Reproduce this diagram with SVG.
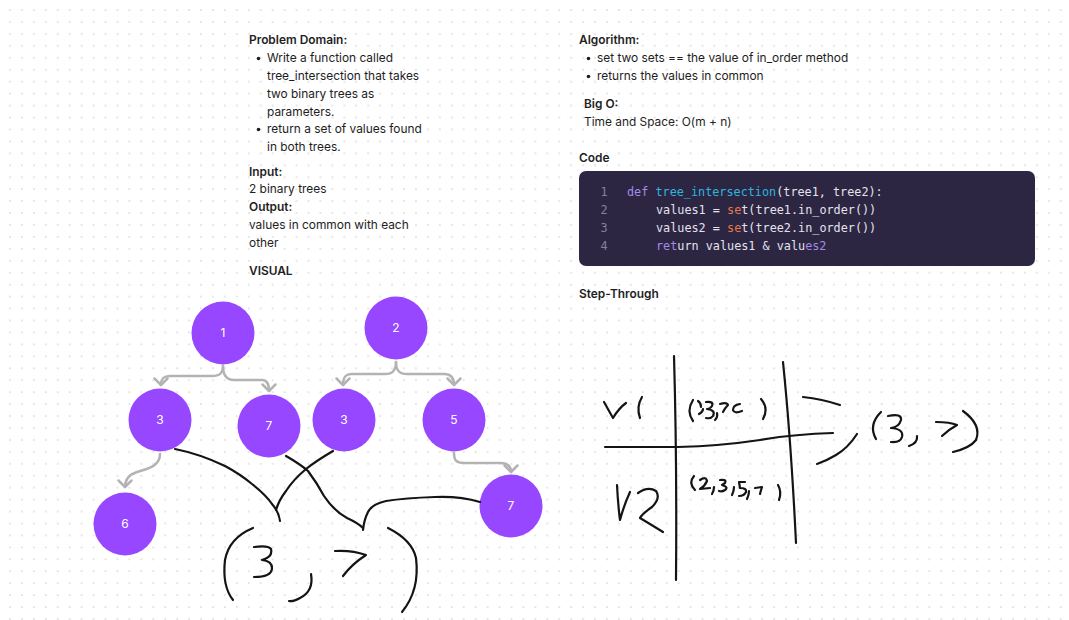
<svg xmlns="http://www.w3.org/2000/svg" width="1069" height="620" viewBox="0 0 1069 620">
<style>
.t{font-family:Inter,"Noto Sans","Liberation Sans",sans-serif;font-size:11.9px;fill:#1e1e1e}
.b{font-weight:600}
.n{fill:#9747ff}
.nl{font-family:Inter,"Noto Sans","Liberation Sans",sans-serif;font-size:12px;fill:#ffffff;text-anchor:middle}
.c{fill:none;stroke:#b3b3b3;stroke-width:2.5;stroke-linecap:round;stroke-linejoin:round}
.ink{fill:none;stroke:#141414;stroke-width:2.2;stroke-linecap:round;stroke-linejoin:round}
.code{font-family:"DejaVu Sans Mono","Liberation Mono",monospace;font-size:11.8px;fill:#e4e2ee}
.ln{font-family:"DejaVu Sans Mono","Liberation Mono",monospace;font-size:11.8px;fill:#85829a;text-anchor:middle}
.kw{fill:#a68ae6}
.fn{fill:#2db6df}
.or{fill:#e8784c}
</style>
<defs>
<pattern id="grid" patternUnits="userSpaceOnUse" x="4.03" y="4.03" width="11.94" height="11.94">
<circle cx="5.97" cy="5.97" r="0.85" fill="#cfcfcf"/>
</pattern>
<marker id="chev" markerUnits="userSpaceOnUse" viewBox="-9 -9 12 18" refX="0" refY="0" markerWidth="12" markerHeight="18" orient="auto">
<path d="M-6.5,-6.5 L0,0 L-6.5,6.5" fill="none" stroke="#b3b3b3" stroke-width="2.5" stroke-linecap="round" stroke-linejoin="round"/>
</marker>
</defs>
<rect width="1069" height="620" fill="#ffffff"/>
<rect width="1069" height="620" fill="url(#grid)"/>

<g id="problem-domain">
<text class="t b" x="249" y="44">Problem Domain:</text>
<circle cx="258.5" cy="58.5" r="1.8" fill="#1e1e1e"/>
<text class="t" x="267" y="62">Write a function called</text>
<text class="t" x="267" y="80">tree_intersection that takes</text>
<text class="t" x="267" y="98">two binary trees as</text>
<text class="t" x="267" y="116">parameters.</text>
<circle cx="258.5" cy="129.5" r="1.8" fill="#1e1e1e"/>
<text class="t" x="267" y="133">return a set of values found</text>
<text class="t" x="267" y="151">in both trees.</text>
<text class="t b" x="249" y="176">Input:</text>
<text class="t" x="249" y="193">2 binary trees</text>
<text class="t b" x="249" y="211">Output:</text>
<text class="t" x="249" y="229">values in common with each</text>
<text class="t" x="249" y="247">other</text>
<text class="t b" x="249" y="275">VISUAL</text>
</g>

<g id="algorithm">
<text class="t b" x="579" y="44">Algorithm:</text>
<circle cx="588.5" cy="58.5" r="1.8" fill="#1e1e1e"/>
<text class="t" x="597" y="62">set two sets == the value of in_order method</text>
<circle cx="588.5" cy="76.5" r="1.8" fill="#1e1e1e"/>
<text class="t" x="597" y="80">returns the values in common</text>
<text class="t b" x="584" y="108">Big O:</text>
<text class="t" x="584" y="126">Time and Space: O(m + n)</text>
<text class="t b" x="579" y="162">Code</text>
</g>

<g id="code-block">
<rect x="579" y="171" width="456" height="95" rx="7" fill="#2c2642"/>
<text class="ln" x="604" y="196">1</text>
<text class="ln" x="604" y="214">2</text>
<text class="ln" x="604" y="232">3</text>
<text class="ln" x="604" y="250">4</text>
<text class="code" x="627" y="196"><tspan class="kw">def</tspan> <tspan class="fn">tree_intersection</tspan>(tree1, tree2):</text>
<text class="code" x="656" y="214">values1 = <tspan class="or">se</tspan>t(tree1.in_order())</text>
<text class="code" x="656" y="232">values2 = <tspan class="or">se</tspan>t(tree2.in_order())</text>
<text class="code" x="656" y="250"><tspan class="kw">ret</tspan>urn values1 &amp; valu<tspan class="kw">es2</tspan></text>
</g>

<g id="step-through-title">
<text class="t b" x="579" y="298">Step-Through</text>
</g>

<g id="connectors">
<path class="c" marker-end="url(#chev)" d="M223,366 C223,373 220,376 212,376 L170,376 C163,376 161,379 161,385"/>
<path class="c" marker-end="url(#chev)" d="M223,366 C223,375 226,380 234,380 L262,380 C267,380 269,384 269,391"/>
<path class="c" marker-end="url(#chev)" d="M396,362 C396,370 393,374 385,374 L352,374 C345,374 343,378 343,385"/>
<path class="c" marker-end="url(#chev)" d="M396,362 C396,370 399,374 407,374 L444,374 C451,374 454,378 454,385"/>
<path class="c" marker-end="url(#chev)" d="M454,453 C454,460 456,463 464,463 L500,463 C507,463 511,466 511,472"/>
<path class="c" marker-end="url(#chev)" d="M160,454 C160,467 146,469 137,472 C128,475 125,480 125,487"/>
</g>

<g id="node-1"><circle class="n" cx="223" cy="333" r="31.5"/><text class="nl" x="223" y="337">1</text></g>
<g id="node-2"><circle class="n" cx="396" cy="328" r="31.5"/><text class="nl" x="396" y="332">2</text></g>
<g id="node-3a"><circle class="n" cx="160" cy="420" r="31.5"/><text class="nl" x="160" y="424">3</text></g>
<g id="node-7a"><circle class="n" cx="269" cy="426" r="31.5"/><text class="nl" x="269" y="430">7</text></g>
<g id="node-3b"><circle class="n" cx="344" cy="420" r="31.5"/><text class="nl" x="344" y="424">3</text></g>
<g id="node-5"><circle class="n" cx="454" cy="420" r="31.5"/><text class="nl" x="454" y="424">5</text></g>
<g id="node-6"><circle class="n" cx="125" cy="524" r="31.5"/><text class="nl" x="125" y="528">6</text></g>
<g id="node-7b"><circle class="n" cx="511" cy="506" r="31.5"/><text class="nl" x="511" y="510">7</text></g>

<g id="ink-tree">
<path class="ink" d="M175,449 Q200,454 225,466 Q240,474 252,484 Q266,495 272,504 Q279,512 280,521"/>
<path class="ink" d="M333,451 Q316,461 306,469 Q293,480 286,491 Q279,500 276,510"/>
<path class="ink" d="M286,456 Q300,464 308,471 Q317,483 324,496 Q334,511 347,518 Q358,523 363,528"/>
<path class="ink" d="M480,502 Q460,496 435,497 Q405,498 386,501 Q372,504 368,512 Q364,520 363,530"/>
<path class="ink" d="M253,528 Q229,538 225,560 Q222,586 233,600"/>
<path class="ink" d="M254,547 Q268,545 271,549 Q273,557 262,560 Q272,561 272,568 Q272,577 254,577"/>
<path class="ink" d="M311,574 Q314,591 300,598 Q293,602 289,601"/>
<path class="ink" d="M335,551 Q352,550 366,555 Q352,564 343,576"/>
<path class="ink" d="M388,528 Q412,540 416,558 Q420,590 402,612"/>
</g>

<g id="ink-table">
<path class="ink" d="M674,356 Q677,460 676,580"/>
<path class="ink" d="M783,362 Q791,440 796,543"/>
<path class="ink" d="M605,447 L678,447 Q720,446 760,440 Q795,434 833,433"/>
<path class="ink" d="M604,402 L613,418 Q619,408 626,403"/>
<path class="ink" d="M642,397 Q636,407 640,418"/>
<path class="ink" d="M617,485 Q618,505 620,520 Q624,505 630,492"/>
<path class="ink" d="M638,493 Q648,486 656,491 Q661,498 652,507 Q642,514 640,518 Q650,524 663,532"/>
<path class="ink" stroke-width="1.6" d="M693,400 Q686,411 693,421"/>
<path class="ink" stroke-width="1.6" d="M698,401 Q701,403 701,407 M703,409 Q703,412 699,414"/>
<path class="ink" stroke-width="1.6" d="M706,402 Q714,401 712,406 Q710,409 707,409 Q716,410 713,416 Q711,419 706,418"/>
<path class="ink" stroke-width="1.6" d="M717,413 Q718,417 715,420"/>
<path class="ink" stroke-width="1.6" d="M720,404 Q727,402 728,405 Q725,408 723,412"/>
<path class="ink" stroke-width="1.6" d="M740,404 Q733,405 733,410 Q734,414 742,411"/>
<path class="ink" stroke-width="1.6" d="M761,399 Q769,408 763,419"/>
<path class="ink" stroke-width="1.6" d="M694,476 Q688,483 695,490"/>
<path class="ink" stroke-width="1.6" d="M700,480 Q706,476 707,481 Q705,486 700,489 L710,488"/>
<path class="ink" stroke-width="1.6" d="M714,487 Q714,491 712,494"/>
<path class="ink" stroke-width="1.6" d="M720,480 Q727,479 725,483 Q722,485 722,485 Q729,487 725,490 Q722,492 719,491"/>
<path class="ink" stroke-width="1.6" d="M734,487 Q734,491 732,495"/>
<path class="ink" stroke-width="1.6" d="M745,482 L739,482 L740,488 Q747,488 746,492 Q744,496 739,496"/>
<path class="ink" stroke-width="1.6" d="M749,491 Q749,495 747,499"/>
<path class="ink" stroke-width="1.6" d="M755,488 L762,487 Q761,490 760,494"/>
<path class="ink" stroke-width="1.6" d="M778,485 Q782,492 779,500"/>
<path class="ink" d="M803,397 Q822,399 840,405"/>
<path class="ink" d="M857,434 Q848,448 836,455 Q826,461 817,464"/>
<path class="ink" d="M881,412 Q868,425 876,439"/>
<path class="ink" d="M888,416 Q902,413 901,420 Q899,427 891,428 Q904,429 902,437 Q900,443 891,442"/>
<path class="ink" d="M917,436 Q918,443 909,446"/>
<path class="ink" d="M936,422 Q950,422 957,425 Q948,430 942,436"/>
<path class="ink" d="M963,411 Q982,425 976,440 Q970,448 953,452"/>
</g>
</svg>
